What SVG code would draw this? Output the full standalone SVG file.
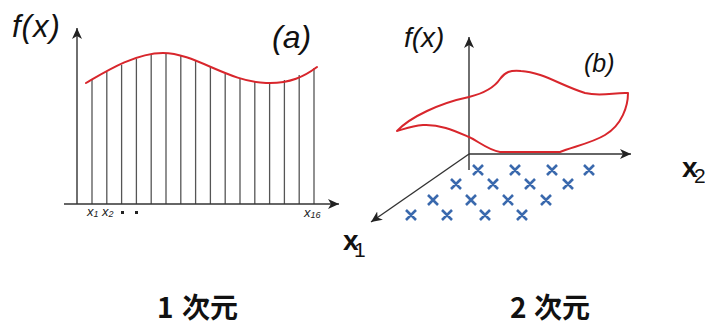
<svg xmlns="http://www.w3.org/2000/svg" width="705" height="334" viewBox="0 0 705 334">
<defs>
<marker id="ah" markerUnits="userSpaceOnUse" markerWidth="12" markerHeight="12" viewBox="0 0 12 12" refX="11" refY="6" orient="auto">
<path d="M0,1 L11,6 L0,11 L3,6 Z" fill="#222"/>
</marker>
<style>
.axis{stroke:#333;stroke-width:1.4;fill:none}
.bar{stroke:#555;stroke-width:1.3}
.curve{stroke:#d8262c;stroke-width:2;fill:none;stroke-linecap:round;stroke-linejoin:round}
.cross{stroke:#3a69ad;stroke-width:2.6;fill:none}
.lab{font-family:"Liberation Sans",Arial,sans-serif;font-style:italic;fill:#111}
.small{font-family:"Liberation Sans",Arial,sans-serif;font-style:italic;fill:#222;font-size:13px}
.big{font-family:"Liberation Sans",Arial,sans-serif;font-weight:bold;fill:#111}
.jp{font-family:"Noto Sans CJK JP","Noto Sans",sans-serif;font-weight:bold;font-size:28px;fill:#111}
</style>
</defs>

<g id="plot-a">
<g id="bars-a">
<line class="bar" x1="92" y1="204" x2="92" y2="79"/>
<line class="bar" x1="106.8" y1="204" x2="106.8" y2="72"/>
<line class="bar" x1="121.6" y1="204" x2="121.6" y2="65"/>
<line class="bar" x1="136.4" y1="204" x2="136.4" y2="59"/>
<line class="bar" x1="151.2" y1="204" x2="151.2" y2="55"/>
<line class="bar" x1="166" y1="204" x2="166" y2="53"/>
<line class="bar" x1="180.8" y1="204" x2="180.8" y2="55"/>
<line class="bar" x1="195.6" y1="204" x2="195.6" y2="61"/>
<line class="bar" x1="210.4" y1="204" x2="210.4" y2="67"/>
<line class="bar" x1="225.2" y1="204" x2="225.2" y2="74"/>
<line class="bar" x1="240" y1="204" x2="240" y2="79"/>
<line class="bar" x1="254.8" y1="204" x2="254.8" y2="82"/>
<line class="bar" x1="269.6" y1="204" x2="269.6" y2="83"/>
<line class="bar" x1="284.4" y1="204" x2="284.4" y2="80"/>
<line class="bar" x1="299.2" y1="204" x2="299.2" y2="75"/>
<line class="bar" x1="314" y1="204" x2="314" y2="68"/>
</g>
<g id="axes-a">
<line class="axis" x1="77" y1="204" x2="77" y2="28" marker-end="url(#ah)"/>
<line class="axis" x1="64" y1="204" x2="339" y2="204" marker-end="url(#ah)"/>
</g>
<path id="curve-a" class="curve" d="M86,83 C105,72 135,53 163,53 C195,53 228,82 266,83 C290,84 305,76 317,67"/>
<text class="lab" x="12" y="37" font-size="31" letter-spacing="1">f(x)</text>
<text class="lab" x="272" y="48" font-size="32">(a)</text>
<text class="small" x="87" y="216">x<tspan font-size="9" dy="1">1</tspan></text>
<text class="small" x="102" y="216">x<tspan font-size="9" dy="1">2</tspan></text>
<rect x="121" y="211" width="3" height="3" fill="#222"/>
<rect x="135" y="211" width="3" height="3" fill="#222"/>
<text class="small" x="304" y="217">x<tspan font-size="9" dy="1">16</tspan></text>
</g>

<g id="plot-b">
<g id="axes-b">
<line class="axis" x1="469" y1="170" x2="469" y2="37" marker-end="url(#ah)"/>
<line class="axis" x1="469" y1="154" x2="631" y2="154" marker-end="url(#ah)"/>
<line class="axis" x1="469" y1="154" x2="371" y2="222" marker-end="url(#ah)"/>
</g>
<path id="surface-b" class="curve" d="M397,131 C410,117 440,103 469,97 C485,93 494,88 500,79 C505,72 510,70 521,71 C542,72 562,86 585,93 C602,97 615,92 628,93 C628,106 622,125 605,135 C592,143 572,147 560,152 L500,152 C488,150 478,141 469,137 C455,131 440,124 423,125 C410,126 402,130 397,131 Z"/>
<g id="grid-points">
<path class="cross" d="M473,165l10,10m0,-10l-10,10 M510,165l10,10m0,-10l-10,10 M547,165l10,10m0,-10l-10,10 M584,165l10,10m0,-10l-10,10
M451,179l10,10m0,-10l-10,10 M488,179l10,10m0,-10l-10,10 M525,179l10,10m0,-10l-10,10 M563,179l10,10m0,-10l-10,10
M428,195l10,10m0,-10l-10,10 M466,195l10,10m0,-10l-10,10 M503,195l10,10m0,-10l-10,10 M541,195l10,10m0,-10l-10,10
M406,210l10,10m0,-10l-10,10 M442,210l10,10m0,-10l-10,10 M480,210l10,10m0,-10l-10,10 M517,210l10,10m0,-10l-10,10"/>
</g>
<text class="lab" x="404" y="47" font-size="28">f(x)</text>
<text class="lab" x="584" y="72" font-size="25">(b)</text>
<text class="big" x="682" y="177" font-size="28">x</text>
<text font-family="Liberation Sans,Arial,sans-serif" x="694" y="183" font-size="21" fill="#111">2</text>
<text class="big" x="343" y="250" font-size="28">x</text>
<text font-family="Liberation Sans,Arial,sans-serif" x="354" y="257" font-size="21" fill="#111">1</text>
</g>

<g id="captions">
<text class="jp" x="157" y="318">1<tspan x="182">次元</tspan></text>
<text class="jp" x="510" y="318">2<tspan x="534">次元</tspan></text>
</g>
</svg>
